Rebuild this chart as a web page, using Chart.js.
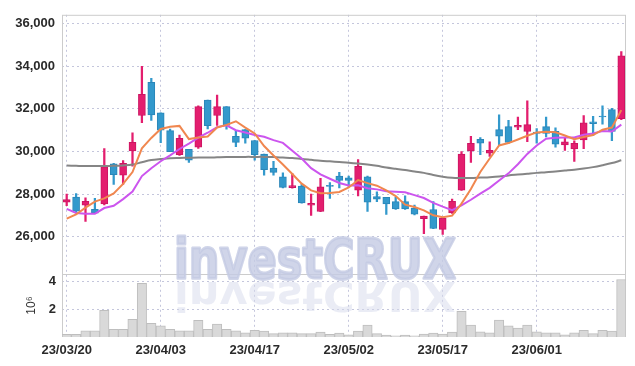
<!DOCTYPE html>
<html>
<head>
<meta charset="utf-8">
<script src="https://cdn.jsdelivr.net/npm/chart.js@4.4.1/dist/chart.umd.min.js"></script>
<style>
  html, body { margin: 0; padding: 0; background: #fff; }
  #wrap { width: 635px; height: 366px; }
</style>
</head>
<body>
<div id="wrap"><canvas id="stockChart" width="635" height="366"></canvas></div>
<script>
// trading days (yy/mm/dd)
const dates = [
  "23/03/20","23/03/21","23/03/22","23/03/23","23/03/24","23/03/27","23/03/28","23/03/29","23/03/30","23/03/31",
  "23/04/03","23/04/04","23/04/05","23/04/06","23/04/07","23/04/10","23/04/11","23/04/12","23/04/13","23/04/14",
  "23/04/17","23/04/18","23/04/19","23/04/20","23/04/21","23/04/24","23/04/25","23/04/26","23/04/27","23/04/28",
  "23/05/02","23/05/03","23/05/04","23/05/08","23/05/09","23/05/10","23/05/11","23/05/12","23/05/15","23/05/16",
  "23/05/17","23/05/18","23/05/19","23/05/22","23/05/23","23/05/24","23/05/25","23/05/26","23/05/30","23/05/31",
  "23/06/01","23/06/02","23/06/05","23/06/07","23/06/08","23/06/09","23/06/12","23/06/13","23/06/14","23/06/15"
];

const openPrices = [
  27630, 27860, 27490, 27290, 27540, 29420, 28890, 30030, 31690, 33250,
  31820, 30980, 29850, 30110, 30200, 32420, 31690, 32110, 30710, 31030,
  30520, 29880, 29230, 28820, 28310, 28380, 27480, 27190, 28420, 28850,
  28770, 28190, 28820, 27890, 27850, 27650, 27650, 27350, 26850, 27280,
  26350, 27120, 28190, 30030, 30570, 29920, 31030, 31170, 31140, 30940,
  30910, 31170, 30950, 30310, 30120, 30540, 31400, 31660, 31970, 31540
];
const highPrices = [
  28000, 28030, 27830, 27800, 30140, 29450, 29580, 30880, 34000, 33430,
  31820, 31050, 30770, 30110, 32150, 32420, 32650, 32110, 31000, 31030,
  30520, 29880, 29540, 29000, 28970, 28460, 28000, 28740, 28540, 29030,
  28850, 29620, 28850, 28110, 27850, 27850, 27920, 27490, 26970, 27650,
  26900, 27770, 30000, 30720, 30660, 30460, 31720, 31460, 31620, 32380,
  31080, 31620, 31110, 30650, 30500, 31690, 31650, 32150, 32030, 34690
];
const lowPrices = [
  27460, 27120, 26720, 27100, 27500, 28460, 28460, 29310, 31350, 31460,
  30420, 29990, 29820, 29490, 30150, 31060, 31230, 31050, 30230, 30390,
  29590, 28890, 28890, 28290, 28280, 27580, 27000, 27180, 27800, 28290,
  28370, 27920, 27190, 27650, 27050, 27280, 27280, 27030, 26150, 26380,
  26110, 27100, 28180, 29490, 29850, 29770, 30310, 30380, 31030, 30460,
  30390, 30690, 30200, 30050, 29540, 30140, 30770, 31280, 30510, 31500
];
const closePrices = [
  27750, 27200, 27660, 27110, 29280, 28910, 29450, 30430, 32690, 31720,
  31000, 29990, 30620, 29590, 32110, 31220, 32110, 31230, 30430, 30630,
  29850, 29150, 29020, 28320, 28400, 27590, 27570, 28340, 28360, 28650,
  28650, 29310, 27620, 27770, 27540, 27310, 27310, 27060, 26970, 26390,
  26880, 27660, 29880, 30390, 30390, 30060, 30720, 30430, 31230, 31260,
  30850, 30850, 30350, 30460, 30390, 31350, 31310, 31620, 30950, 34490
];

// moving averages
const ma5 = [
  26850, 27050, 27370, 27650, 27800, 28032, 28482, 29036, 30152, 30640,
  31058, 31166, 31204, 30584, 30662, 30706, 31130, 31252, 31420, 31124,
  30850, 30258, 29816, 29394, 28948, 28496, 28180, 28044, 28052, 28102,
  28314, 28662, 28518, 28400, 28178, 27910, 27510, 27398, 27238, 27008,
  26922, 26992, 27556, 28240, 29040, 29676, 30288, 30398, 30566, 30740,
  30898, 30924, 30908, 30754, 30580, 30680, 30772, 31026, 31124, 31944
];
const ma10 = [
  27310, 27120, 27080, 27080, 27350, 27460, 27770, 28120, 28850, 29220,
  29545, 29824, 30120, 30368, 30651, 30882, 31148, 31228, 31002, 30893,
  30778, 30694, 30534, 30407, 30036, 29673, 29219, 28930, 28723, 28525,
  28405, 28421, 28281, 28226, 28140, 28112, 28086, 27958, 27819, 27593,
  27416, 27251, 27477, 27739, 28024, 28299, 28640, 28977, 29403, 29890,
  30287, 30606, 30653, 30660, 30660, 30789, 30848, 30967, 30939, 31262
];
const ma60 = [
  29340, 29330, 29320, 29320, 29320, 29330, 29350, 29390, 29500, 29600,
  29650, 29690, 29700, 29710, 29720, 29720, 29730, 29740, 29740, 29750,
  29750, 29750, 29740, 29720, 29700, 29650, 29610, 29570, 29540, 29510,
  29480, 29440, 29390, 29330, 29250, 29190, 29130, 29060, 29000, 28900,
  28820, 28770, 28760, 28760, 28780, 28800, 28830, 28880, 28920, 28960,
  29000, 29030, 29070, 29110, 29150, 29200, 29270, 29360, 29460, 29590
];

// volume, in millions of shares
const volumes = [
  0.19, 0.19, 0.45, 0.45, 1.93, 0.56, 0.56, 1.27, 3.88, 0.99,
  0.80, 0.56, 0.45, 0.45, 1.20, 0.56, 0.94, 0.56, 0.45, 0.31,
  0.49, 0.42, 0.24, 0.31, 0.31, 0.24, 0.24, 0.35, 0.19, 0.28,
  0.16, 0.42, 0.87, 0.24, 0.14, 0.09, 0.14, 0.09, 0.21, 0.28,
  0.21, 0.35, 1.86, 0.87, 0.38, 0.31, 1.22, 0.80, 0.64, 0.87,
  0.38, 0.31, 0.31, 0.16, 0.31, 0.49, 0.24, 0.49, 0.42, 4.16
];

// axis ticks
const priceTicks = [26000, 28000, 30000, 32000, 34000, 36000];
const volumeTicks = [2, 4];

const upFill = "#e31e6e", upLine = "#cc1462";
const downFill = "#3399cc", downLine = "#2a86b8";
const gridColor = "#c4c6dc";
const tickFont = { family: "'Liberation Sans', Arial, sans-serif", size: 13, weight: "bold" };

function isUp(i) { return closePrices[i] >= openPrices[i]; }

// watermark + frame, drawn under the candles
const backdrop = {
  id: "backdrop",
  beforeDatasetsDraw(chart) {
    const { ctx, chartArea: a, scales } = chart;
    ctx.save();
    ctx.strokeStyle = "#cccccc";
    ctx.lineWidth = 1;
    ctx.strokeRect(a.left + 0.5, a.top + 0.5, a.right - a.left - 1, a.bottom - a.top - 1);
    const sep = Math.round(scales.yv.top) + 0.5;
    ctx.beginPath();
    ctx.moveTo(a.left, sep);
    ctx.lineTo(a.right, sep);
    ctx.stroke();

    const text = "investCRUX";
    ctx.font = "bold 56px 'DejaVu Sans', sans-serif";
    ctx.lineJoin = "round";
    const w = ctx.measureText(text).width;
    const sx = 282 / w;
    const x0 = 174, base = 278;
    ctx.fillStyle = "rgba(196, 203, 228, 0.8)";
    ctx.strokeStyle = "rgba(196, 203, 228, 0.8)";
    ctx.lineWidth = 3;
    ctx.save();
    ctx.translate(x0, base);
    ctx.scale(sx, 1);
    ctx.strokeText(text, 0, 0);
    ctx.fillText(text, 0, 0);
    ctx.restore();
    ctx.fillStyle = "rgba(214, 218, 236, 0.5)";
    ctx.strokeStyle = "rgba(214, 218, 236, 0.5)";
    ctx.save();
    ctx.beginPath();
    ctx.rect(a.left, base + 2, a.right - a.left, a.bottom - base - 2);
    ctx.clip();
    ctx.translate(x0, base + 4);
    ctx.scale(sx, -0.72);
    ctx.fillText(text, 0, 0);
    ctx.restore();
    ctx.restore();
  }
};

const ctx = document.getElementById("stockChart");

new Chart(ctx, {
  type: "bar",
  data: {
    labels: dates,
    datasets: [
      {
        type: "line", label: "MA5", data: ma5, yAxisID: "y", order: 0,
        borderColor: "#f0874f", borderWidth: 2, pointRadius: 0, tension: 0
      },
      {
        type: "line", label: "MA10", data: ma10, yAxisID: "y", order: 0,
        borderColor: "#cc55ee", borderWidth: 2, pointRadius: 0, tension: 0
      },
      {
        type: "line", label: "MA60", data: ma60, yAxisID: "y", order: 0,
        borderColor: "#858585", borderWidth: 2, pointRadius: 0, tension: 0.3
      },
      {
        label: "body", yAxisID: "y", order: 1, grouped: false,
        data: openPrices.map((o, i) => [o, closePrices[i]]),
        backgroundColor: c => isUp(c.dataIndex) ? upFill : downFill,
        borderColor: c => isUp(c.dataIndex) ? upLine : downLine,
        borderWidth: 1, borderSkipped: false, barThickness: 7
      },
      {
        label: "wick", yAxisID: "y", order: 2, grouped: false,
        data: lowPrices.map((l, i) => [l, highPrices[i]]),
        backgroundColor: c => isUp(c.dataIndex) ? upFill : downFill,
        borderWidth: 0, barThickness: 1.6
      },
      {
        label: "volume", yAxisID: "yv", order: 3, grouped: false,
        data: volumes,
        backgroundColor: "#d9d9d9", borderColor: "#bebebe", borderWidth: 1,
        borderSkipped: "bottom", categoryPercentage: 1, barPercentage: 1
      }
    ]
  },
  options: {
    responsive: false,
    animation: false,
    devicePixelRatio: 1,
    layout: { padding: { top: 9, right: 9, left: 0, bottom: 0 } },
    plugins: {
      legend: { display: false },
      tooltip: { enabled: false }
    },
    scales: {
      x: {
        type: "category",
        offset: true,
        grid: {
          offset: false,
          drawTicks: false,
          color: c => (c.index % 10 === 0 ? gridColor : "rgba(0,0,0,0)")
        },
        border: { display: false, dash: [2, 3] },
        ticks: {
          autoSkip: false, maxRotation: 0, padding: 6,
          color: "#2a2a2a", font: tickFont,
          callback: function (v, i) { return i % 10 === 0 ? this.getLabelForValue(v) : ""; }
        },
        afterFit: s => { s.height = 29; }
      },
      y: {
        position: "left", stack: "panel", stackWeight: 264, weight: 1,
        min: 24250, max: 36415,
        grid: { color: gridColor, drawTicks: false },
        border: { display: false, dash: [2, 3] },
        ticks: { padding: 7, color: "#2a2a2a", font: tickFont },
        afterBuildTicks: s => { s.ticks = priceTicks.map(v => ({ value: v })); },
        afterFit: s => { s.width = 62; }
      },
      yv: {
        position: "left", stack: "panel", stackWeight: 64, weight: 0,
        min: 0, max: 4.55,
        grid: { color: gridColor, drawTicks: false },
        border: { display: false, dash: [2, 3] },
        ticks: { padding: 6, color: "#2a2a2a", font: tickFont },
        afterBuildTicks: s => { s.ticks = volumeTicks.map(v => ({ value: v })); },
        title: {
          display: true, text: "10⁶", color: "#333",
          font: { family: "'Liberation Sans', Arial, sans-serif", size: 12 },
          padding: { top: 24, bottom: 0 }
        },
        afterFit: s => { s.width = 62; }
      }
    }
  },
  plugins: [backdrop]
});
</script>
</body>
</html>
